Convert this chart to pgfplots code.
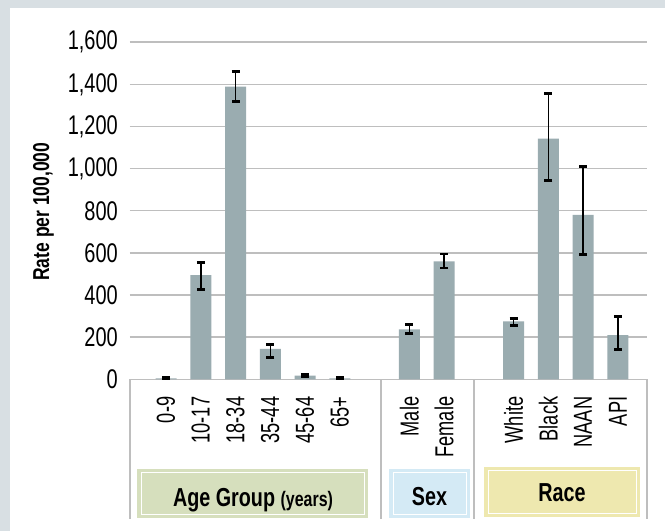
\documentclass[border=0pt]{standalone}
\usepackage{fontspec}
\setmainfont{Liberation Sans}[FakeStretch=0.76]
\newfontfamily\yfont{Liberation Sans}[FakeStretch=0.74]
\newfontfamily\xfont{Liberation Sans}[FakeStretch=0.70]
\newfontfamily\labfont{Liberation Sans Bold}[FakeStretch=0.76]
\usepackage{pgfplots}
\usepackage{pgfplotstable}
\pgfplotsset{compat=1.18}
\definecolor{framegray}{RGB}{216,223,227}
\definecolor{gridgray}{RGB}{190,190,190}
\definecolor{barcol}{RGB}{154,172,176}
\definecolor{agebox}{RGB}{214,223,189}
\definecolor{sexbox}{RGB}{212,234,245}
\definecolor{racebox}{RGB}{238,232,175}

\pgfplotstableread{
x y ep em
0 4 3 3
1 495 60 68
2 1389 73 70
3 145 22 43
4 17 4 4
5 4 3 3
7 237 24 21
8 560 35 32
10 275 13 20
11 1142 215 198
12 780 229 187
13 210 87 68
}\ratedata

\begin{document}
\begin{tikzpicture}[x=1pt,y=1pt]
\useasboundingbox (0,0) rectangle (665,531);
\fill[framegray] (0,0) rectangle (665,531);
\fill[white] (10,0) rectangle (665,523);
\begin{axis}[at={(130pt,151.7pt)}, anchor=south west, scale only axis,
  width=517pt, height=337.1pt,
  xmin=-1.036, xmax=13.84, ymin=0, ymax=1600,
  ybar, bar width=21pt,
  ytick={0,200,...,1600}, ymajorgrids,
  major grid style={draw=gridgray, line width=1.5pt},
  axis line style={draw=none}, tick style={draw=none},
  xtick={0,1,2,3,4,5,7,8,10,11,12,13},
  xticklabels={0-9,10-17,18-34,35-44,45-64,65+,Male,Female,White,Black,NAAN,API},
  xticklabel style={rotate=90, anchor=east, inner sep=0pt, font=\xfont\fontsize{26}{30}\selectfont},
  xticklabel shift=13pt,
  yticklabel style={anchor=east, inner sep=0pt, font=\yfont\fontsize{27}{30}\selectfont},
  yticklabel shift=12pt,
  /pgf/number format/assume math mode=true,
  /pgf/number format/1000 sep={,},
  scaled y ticks=false,
  clip=false]
\addplot[fill=barcol, draw=none,
  error bars/.cd, y dir=both, y explicit,
  error mark=|,
  error bar style={line width=1.5pt, black},
  error mark options={black, line width=2.8pt, mark size=4pt}]
  table[x=x, y=y, y error plus=ep, y error minus=em] {\ratedata};
\end{axis}
% category area lines
\foreach \xx in {130,381,474,647} {
  \draw[gridgray, line width=1.5pt] (\xx,151.7) -- (\xx,12);
}
% group boxes
\fill[agebox] (137,13) rectangle (368,62);
\draw[white, line width=1pt] (141,17) rectangle (364,58);
\fill[sexbox] (389,13) rectangle (470,62);
\draw[white, line width=1pt] (393,17) rectangle (466,58);
\fill[racebox] (484,14) rectangle (640,64);
\draw[white, line width=1pt] (488,18) rectangle (636,60);
\node[anchor=base, inner sep=0pt, font=\bfseries\fontsize{26}{30}\selectfont] at (253,25) {Age Group {\fontsize{21}{24}\selectfont (years)}};
\node[anchor=base, inner sep=0pt, font=\bfseries\fontsize{26}{30}\selectfont] at (429.5,26) {Sex};
\node[anchor=base, inner sep=0pt, font=\bfseries\fontsize{26}{30}\selectfont] at (562,29.5) {Race};
% y label
\node[rotate=90, inner sep=0pt, font=\labfont\fontsize{23}{27}\selectfont] at (43.5,319.3) {Rate per 100,000};
\end{tikzpicture}
\end{document}
